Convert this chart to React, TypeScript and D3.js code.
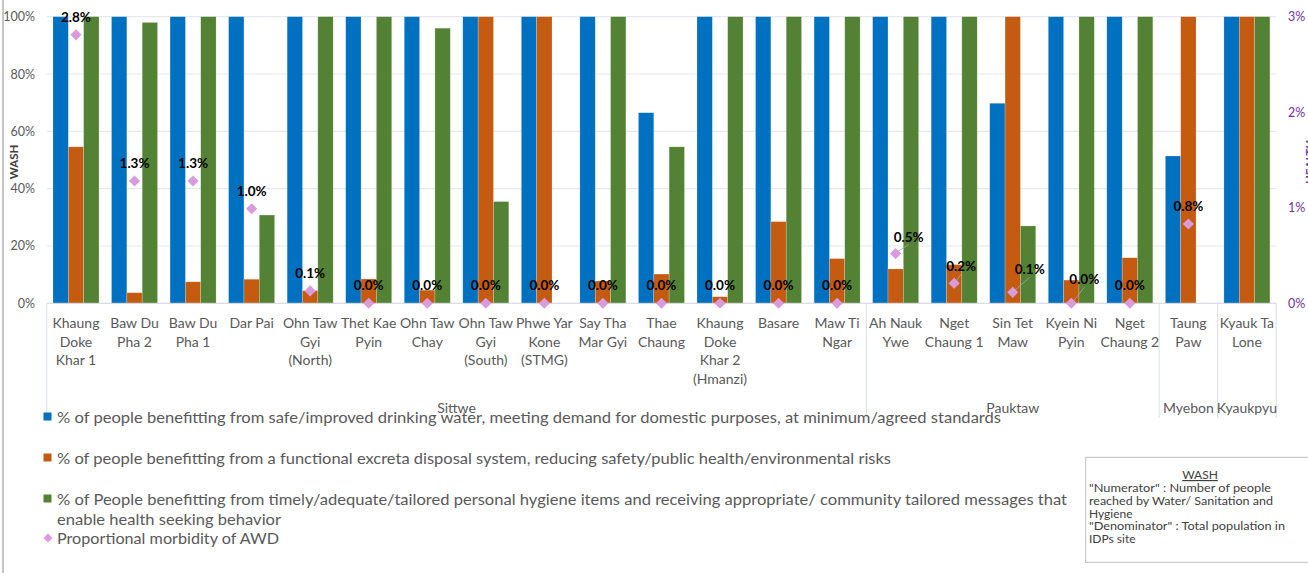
import React from "react";
import * as d3 from "d3";

const categories = [
  "Khaung\nDoke\nKhar 1", "Baw Du\nPha 2", "Baw Du\nPha 1", "Dar Pai", "Ohn Taw\nGyi\n(North)",
  "Thet Kae\nPyin", "Ohn Taw\nChay", "Ohn Taw\nGyi\n(South)", "Phwe Yar\nKone\n(STMG)", "Say Tha\nMar Gyi",
  "Thae\nChaung", "Khaung\nDoke\nKhar 2\n(Hmanzi)", "Basare", "Maw Ti\nNgar", "Ah Nauk\nYwe",
  "Nget\nChaung 1", "Sin Tet\nMaw", "Kyein Ni\nPyin", "Nget\nChaung 2", "Taung\nPaw", "Kyauk Ta\nLone",
];
const groups = [
  { name: "Sittwe", count: 14 },
  { name: "Pauktaw", count: 5 },
  { name: "Myebon", count: 1 },
  { name: "Kyaukpyu", count: 1 },
];
const water = [100, 100, 100, 100, 100, 100, 100, 100, 100, 100, 66.5, 100, 100, 100, 100, 100, 69.8, 100, 100, 51.4, 100];
const sanitation = [54.6, 3.7, 7.5, 8.4, 4.4, 8.5, 4.6, 100, 100, 7.8, 10.2, 2.3, 28.5, 15.6, 12, 13.5, 100, 8.1, 15.9, 100, 100];
const hygiene = [100, 98, 100, 30.8, 100, 100, 96, 35.5, 0, 100, 54.6, 100, 100, 100, 100, 100, 27, 100, 100, 0, 100];
const awd: (number | null)[] = [2.81, 1.28, 1.28, 0.99, 0.13, 0, 0, 0, 0, 0, 0, 0, 0, 0, 0.52, 0.21, 0.115, 0, 0, 0.83, null];
const awdLabels = ["2.8%", "1.3%", "1.3%", "1.0%", "0.1%", "0.0%", "0.0%", "0.0%", "0.0%", "0.0%", "0.0%", "0.0%", "0.0%", "0.0%", "0.5%", "0.2%", "0.1%", "0.0%", "0.0%", "0.8%", ""];
const washTicks = [0, 20, 40, 60, 80, 100];
const healthTicks = [0, 1, 2, 3];
const legendItems = [
  ["% of people benefitting from safe/improved drinking water, meeting demand for domestic purposes, at minimum/agreed standards"],
  ["% of people benefitting from a functional excreta disposal system, reducing safety/public health/environmental risks"],
  ["% of People benefitting from timely/adequate/tailored personal hygiene items and receiving appropriate/ community tailored messages that", "enable health seeking behavior"],
  ["Proportional morbidity of AWD"],
];
const noteLines = [
  "\"Numerator\" : Number of people",
  "reached by Water/ Sanitation and",
  "Hygiene",
  "\"Denominator\" : Total population in",
  "IDPs site",
];

// layout (not data)
const W = 1308, H = 573;
const X0 = 46.7, X1 = 1276.2, Y0 = 303.3, Y1 = 16.7;
const COLORS = ["#0070c0", "#c55a11", "#548235"];
const DIAMOND = "#d99ade";
const GREY = "#595959";
const FONT = "Lato, 'Open Sans', sans-serif";
const labelOffsets: Record<number, [number, number]> = {
  14: [13, -17],
  15: [7, -17],
  16: [17, -23],
  17: [13, -24],
};
const legendLengths = [[944], [834], [1010, 224], [222]];
const noteLengths = [182, 184, 0, 196, 0];

export default function App() {
  const x = d3.scaleBand<number>().domain(d3.range(categories.length)).range([X0, X1]).paddingInner(0.214).paddingOuter(0.107);
  const x1 = d3.scaleBand<number>().domain([0, 1, 2]).range([0, x.bandwidth()]);
  const y = d3.scaleLinear().domain([0, 100]).range([Y0, Y1]);
  const y2 = d3.scaleLinear().domain([0, 3]).range([Y0, Y1]);
  const step = x.step();
  const series = [water, sanitation, hygiene];
  const diamondPath = d3.symbol(d3.symbolSquare, 62)() as string;

  let acc = 0;
  const groupBounds = groups.map((g) => {
    const start = X0 + acc * step;
    acc += g.count;
    return { name: g.name, start, end: X0 + acc * step };
  });

  return (
    <svg width={W} height={H} style={{ position: "absolute", left: 0, top: 0, background: "#fff" }} fontFamily={FONT}>
      <line x1={3} x2={3} y1={0} y2={H} stroke="#8c8c8c" strokeWidth={1} />
      {washTicks.map((t) => (
        <line key={t} x1={X0} x2={X1} y1={y(t)} y2={y(t)} stroke="#e6e8ed" strokeWidth={1.2} />
      ))}
      {washTicks.map((t) => (
        <text key={t} x={35} y={y(t) + 4.5} textAnchor="end" fontSize={12.5} fill={GREY}>{t}%</text>
      ))}
      {healthTicks.map((t) => (
        <text key={t} x={1288} y={y2(t) + 4.5} textAnchor="start" fontSize={12.5} fill="#7030a0">{t}%</text>
      ))}
      <text transform={`translate(18,${162}) rotate(-90)`} textAnchor="middle" fontSize={11.5} fontWeight="bold" fill="#404040">WASH</text>
      <text transform={`translate(1314,${162}) rotate(-90)`} textAnchor="middle" fontSize={11.5} fontWeight="bold" fill="#7030a0">HEALTH</text>
      {categories.map((c, i) => (
        <g key={i} transform={`translate(${x(i)},0)`}>
          {series.map((s, k) =>
            s[i] > 0 ? (
              <rect key={k} x={x1(k)} y={y(s[i])} width={x1.bandwidth()} height={Y0 - y(s[i])} fill={COLORS[k]} stroke="rgba(255,255,255,0.35)" strokeWidth={0.6} />
            ) : null
          )}
        </g>
      ))}
      <line x1={X0} x2={X1} y1={Y0} y2={Y0} stroke="#d9dde3" strokeWidth={1} />
      {[X0, ...groupBounds.map((g) => g.end)].map((bx, i) => (
        <line key={i} x1={bx} x2={bx} y1={Y0} y2={418} stroke="#d9dde3" strokeWidth={1} />
      ))}
      {categories.map((c, i) => {
        const cx = (x(i) as number) + x.bandwidth() / 2;
        return c.split("\n").map((line, j) => (
          <text key={`${i}-${j}`} x={cx} y={328 + j * 18.7} textAnchor="middle" fontSize={14} fill={GREY}>{line}</text>
        ));
      })}
      {groupBounds.map((g) => (
        <text key={g.name} x={(g.start + g.end) / 2} y={413} textAnchor="middle" fontSize={14} fill={GREY}>{g.name}</text>
      ))}
      {awd.map((v, i) => {
        if (v === null) return null;
        const cx = (x(i) as number) + x.bandwidth() / 2;
        const cy = y2(v);
        const off = labelOffsets[i];
        const lx = off ? cx + off[0] : cx;
        const ly = off ? cy + off[1] : cy - 18;
        return (
          <g key={i}>
            {off && <line x1={cx + 2} y1={cy - 2} x2={lx} y2={ly + 8} stroke="#a6a6a6" strokeWidth={0.8} />}
            <path d={diamondPath} transform={`translate(${cx},${cy}) rotate(45)`} fill={DIAMOND} />
            <text x={lx} y={ly + 5} textAnchor="middle" fontSize={13.5} fontWeight="bold" fill="#000">{awdLabels[i]}</text>
          </g>
        );
      })}
      {[417, 458, 499, 538].map((ly, k) => (
        <g key={k}>
          {k < 3 ? (
            <rect x={43.5} y={ly - 4.5} width={8} height={8} fill={COLORS[k]} />
          ) : (
            <path d={d3.symbol(d3.symbolSquare, 40)() as string} transform={`translate(48,${ly}) rotate(45)`} fill={DIAMOND} />
          )}
          {legendItems[k].map((t, j) => (
            <text key={j} x={57} y={ly + 5.5 + j * 20.5} fontSize={16} fill={GREY} textLength={legendLengths[k][j]} lengthAdjust="spacingAndGlyphs">{t}</text>
          ))}
        </g>
      ))}
      <rect x={1085.7} y={457.3} width={240} height={105} fill="#fff" stroke="#bfbfbf" strokeWidth={1} />
      <text x={1200} y={479} textAnchor="middle" fontSize={12} fill="#404040" textDecoration="underline">WASH</text>
      {noteLines.map((t, j) => (
        <text key={j} x={1089} y={492 + j * 12.8} fontSize={12} fill="#404040"
          {...(noteLengths[j] ? { textLength: noteLengths[j], lengthAdjust: "spacingAndGlyphs" } : {})}>{t}</text>
      ))}
    </svg>
  );
}
